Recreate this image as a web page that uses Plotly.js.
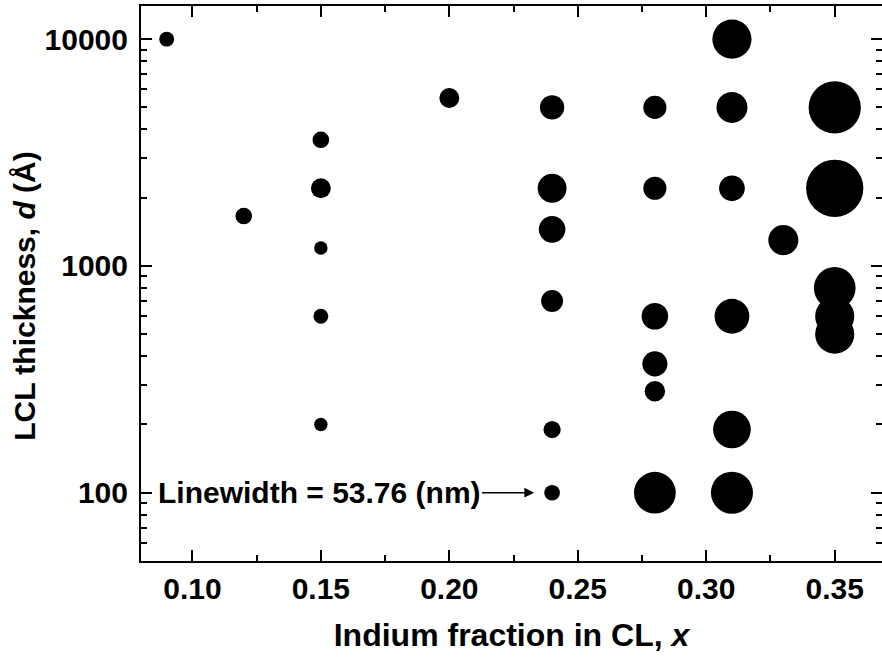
<!DOCTYPE html>
<html>
<head>
<meta charset="utf-8">
<script src="https://cdn.plot.ly/plotly-3.0.1.min.js"></script>
<style>html,body{margin:0;padding:0;background:#fff;}#chart{width:882px;height:658px;}</style>
</head>
<body>
<div id="chart"></div>
<script>
// Indium fraction in CL (x)
const indiumFraction = [0.09, 0.12,
  0.15, 0.15, 0.15, 0.15, 0.15,
  0.20,
  0.24, 0.24, 0.24, 0.24, 0.24, 0.24,
  0.28, 0.28, 0.28, 0.28, 0.28, 0.28,
  0.31, 0.31, 0.31, 0.31, 0.31, 0.31,
  0.33,
  0.35, 0.35, 0.35, 0.35, 0.35];
// LCL thickness d (Å)
const lclThickness = [10000, 1660,
  3600, 2200, 1200, 600, 200,
  5500,
  5000, 2200, 1450, 700, 190, 100,
  5000, 2200, 600, 370, 280, 100,
  10000, 5000, 2200, 600, 190, 100,
  1300,
  5000, 2200, 800, 600, 500];
// Linewidth (nm), encoded by bubble size
const linewidthNm = [51, 57,
  57, 68, 46, 51, 46,
  68,
  83, 99, 91, 75, 59, 53.76,
  79, 79, 91, 86, 70, 143,
  134, 106, 88, 119, 129, 144,
  103,
  179, 196, 143, 134, 134];

const xTickVals = [0.10, 0.15, 0.20, 0.25, 0.30, 0.35];
const xTickText = ["0.10", "0.15", "0.20", "0.25", "0.30", "0.35"];
const yTickVals = [100, 1000, 10000];
const yTickText = ["100", "1000", "10000"];

const refLinewidth = 53.76;
const refPoint = {x: 0.24, y: 100};

const FONT = "Liberation Sans, Arial, sans-serif";

const trace = {
  type: "scatter",
  mode: "markers",
  x: indiumFraction,
  y: lclThickness,
  marker: {
    size: linewidthNm,
    sizemode: "diameter",
    sizeref: refLinewidth / 15.7,
    color: "#000000",
    opacity: 1,
    line: {width: 0}
  },
  hoverinfo: "x+y",
  showlegend: false
};

const layout = {
  width: 882,
  height: 658,
  margin: {l: 141, r: 0, t: 6, b: 97},
  paper_bgcolor: "#ffffff",
  plot_bgcolor: "#ffffff",
  showlegend: false,
  font: {family: FONT, color: "#000000"},
  xaxis: {
    range: [0.08, 0.3684],
    tickvals: xTickVals,
    ticktext: xTickText,
    ticks: "inside",
    ticklen: 11,
    tickwidth: 2,
    tickcolor: "#000",
    minor: {dtick: 0.025, tick0: 0.1, ticks: "inside", ticklen: 6, tickwidth: 2, tickcolor: "#000", showgrid: false},
    showline: true,
    linewidth: 2,
    linecolor: "#000",
    mirror: "allticks",
    showgrid: false,
    zeroline: false,
    tickfont: {family: FONT, size: 30, weight: "bold", color: "#000"},
    title: {
      text: "Indium fraction in CL, <i>x</i>",
      font: {family: FONT, size: 32, weight: "bold", color: "#000"},
      standoff: 20
    }
  },
  yaxis: {
    type: "log",
    range: [Math.log10(50), Math.log10(14000)],
    tickvals: yTickVals,
    ticktext: yTickText,
    ticks: "inside",
    ticklen: 11,
    tickwidth: 2,
    tickcolor: "#000",
    ticklabelstandoff: 5,
    minor: {dtick: "D1", ticks: "inside", ticklen: 6, tickwidth: 2, tickcolor: "#000", showgrid: false},
    showline: true,
    linewidth: 2,
    linecolor: "#000",
    mirror: "allticks",
    showgrid: false,
    zeroline: false,
    tickfont: {family: FONT, size: 30, weight: "bold", color: "#000"},
    title: {
      text: "LCL thickness, <i>d</i> (Å)&nbsp;&nbsp;&nbsp;",
      font: {family: FONT, size: 30, weight: "bold", color: "#000"},
      standoff: 0
    }
  },
  annotations: [{
    x: refPoint.x,
    y: Math.log10(refPoint.y),
    xref: "x",
    yref: "y",
    text: "Linewidth = " + refLinewidth + " (nm)",
    font: {family: FONT, size: 30, weight: "bold", color: "#000"},
    showarrow: true,
    arrowhead: 2,
    arrowsize: 1.3,
    arrowwidth: 1.5,
    arrowcolor: "#000",
    ax: -233,
    ay: 0,
    standoff: 18
  }]
};

Plotly.newPlot("chart", [trace], layout, {displayModeBar: false, staticPlot: true});
</script>
</body>
</html>
